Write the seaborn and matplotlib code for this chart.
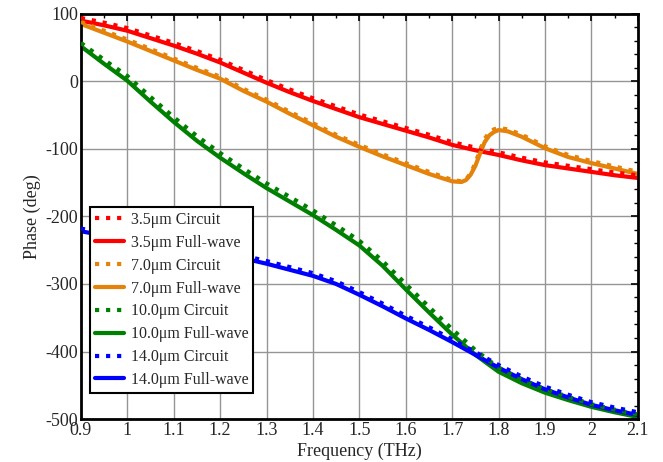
import numpy as np
import pandas as pd
import seaborn as sns
import matplotlib.pyplot as plt
from matplotlib.ticker import MultipleLocator, FuncFormatter

# Frequency grid (THz)
freq = [0.9, 0.95, 1.0, 1.05, 1.1, 1.15, 1.2, 1.25, 1.3, 1.35, 1.4, 1.45, 1.5,
        1.55, 1.6, 1.65, 1.7, 1.75, 1.8, 1.85, 1.9, 1.95, 2.0, 2.05, 2.1]

# finer grid for the 7.0um resonance
freq_or = [0.9, 0.95, 1.0, 1.05, 1.1, 1.15, 1.2, 1.25, 1.3, 1.35, 1.4, 1.45, 1.5,
           1.55, 1.6, 1.65, 1.7, 1.72, 1.73, 1.74, 1.75, 1.76, 1.77, 1.78, 1.79,
           1.8, 1.82, 1.85, 1.9, 1.95, 2.0, 2.05, 2.1]

# Phase (deg)
red_fw = [90, 83, 75, 64, 53, 41, 28, 13, -2, -16, -29, -41, -53,
          -63, -73, -83, -94, -102, -109, -117, -124, -129, -134, -139, -143]
red_ci = [94, 87, 79, 68, 57, 45, 32, 17, 2, -12, -25, -37, -49,
          -59, -69, -79, -90, -98, -105, -113, -120, -125, -130, -135, -139]

orange_fw = [85, 72, 59, 45, 31, 17, 4, -14, -30, -48, -65, -82, -97,
             -111, -124, -137, -148, -149, -146, -138, -125, -107, -90, -80, -75,
             -72, -74, -82, -99, -112, -121, -129, -137]
orange_ci = [88, 75, 62, 48, 34, 20, 7, -11, -27, -45, -62, -79, -94,
             -108, -121, -134, -146, -148, -145, -136, -121, -102, -85, -76, -71,
             -69, -71, -79, -96, -109, -118, -126, -134]

green_fw = [52, 26, 1, -30, -60, -88, -113, -136, -158, -178, -198, -220, -243,
            -273, -308, -342, -375, -405, -430, -447, -461, -472, -482, -490, -497]
green_ci = [57, 32, 8, -23, -53, -81, -106, -129, -151, -171, -191, -213, -236,
            -266, -300, -334, -367, -398, -424, -442, -456, -467, -478, -486, -493]

blue_fw = [-222, -228, -234, -240, -246, -252, -257, -262, -270, -279, -288, -300, -316,
           -333, -351, -368, -386, -405, -424, -441, -456, -468, -479, -487, -494]
blue_ci = [-218, -224, -230, -236, -242, -248, -253, -258, -266, -275, -284, -296, -312,
           -329, -347, -364, -382, -401, -420, -437, -452, -464, -475, -483, -490]

series = [
    ("3.5\u03bcm Circuit", freq, red_ci, "#ff0000", ":"),
    ("3.5\u03bcm Full-wave", freq, red_fw, "#ff0000", "-"),
    ("7.0\u03bcm Circuit", freq_or, orange_ci, "#e5820a", ":"),
    ("7.0\u03bcm Full-wave", freq_or, orange_fw, "#e5820a", "-"),
    ("10.0\u03bcm Circuit", freq, green_ci, "#008000", ":"),
    ("10.0\u03bcm Full-wave", freq, green_fw, "#008000", "-"),
    ("14.0\u03bcm Circuit", freq, blue_ci, "#0000ff", ":"),
    ("14.0\u03bcm Full-wave", freq, blue_fw, "#0000ff", "-"),
]

sns.set_style("white")
plt.rcParams["font.family"] = ["Liberation Serif", "DejaVu Serif"]
plt.rcParams["axes.unicode_minus"] = False

fig = plt.figure(figsize=(6.63, 4.62), dpi=100)
ax = fig.add_axes([0.122, 0.093, 0.840, 0.877])

for label, x, y, color, ls in series:
    sns.lineplot(x=x, y=y, ax=ax, color=color, linestyle=ls, linewidth=3,
                 label=label, zorder=3 if ls == ":" else 2)

ax.set_xlim(0.9, 2.1)
ax.set_ylim(-500, 100)
ax.xaxis.set_major_locator(MultipleLocator(0.1))
ax.xaxis.set_minor_locator(MultipleLocator(0.05))
ax.yaxis.set_major_locator(MultipleLocator(100))
ax.yaxis.set_minor_locator(MultipleLocator(20))
ax.xaxis.set_major_formatter(FuncFormatter(lambda v, p: f"{v:g}"))
ax.yaxis.set_major_formatter(FuncFormatter(lambda v, p: f"{v:g}"))

ax.grid(True, which="major", color="#959595", linewidth=1)
ax.tick_params(which="both", direction="in", top=True, right=True,
               labelsize=13, color="black")
ax.tick_params(which="major", length=5, width=1.2)
ax.tick_params(axis="x", which="major", pad=2)
ax.tick_params(axis="y", which="major", pad=2)
ax.tick_params(which="minor", length=3, width=1)
for s in ax.spines.values():
    s.set_linewidth(2)
    s.set_color("black")

ax.set_xlabel("Frequency (THz)", fontsize=13, labelpad=3)
ax.set_ylabel("Phase (deg)", fontsize=13, labelpad=3)

leg = ax.legend(loc="upper left", bbox_to_anchor=(0.016, 0.523), borderaxespad=0,
                fontsize=11.5, handlelength=1.85, handletextpad=0.4,
                labelspacing=0.43, fancybox=False, framealpha=1,
                edgecolor="black", borderpad=0.3)
leg.get_frame().set_linewidth(1.5)

fig.savefig("out.png", dpi=100)
